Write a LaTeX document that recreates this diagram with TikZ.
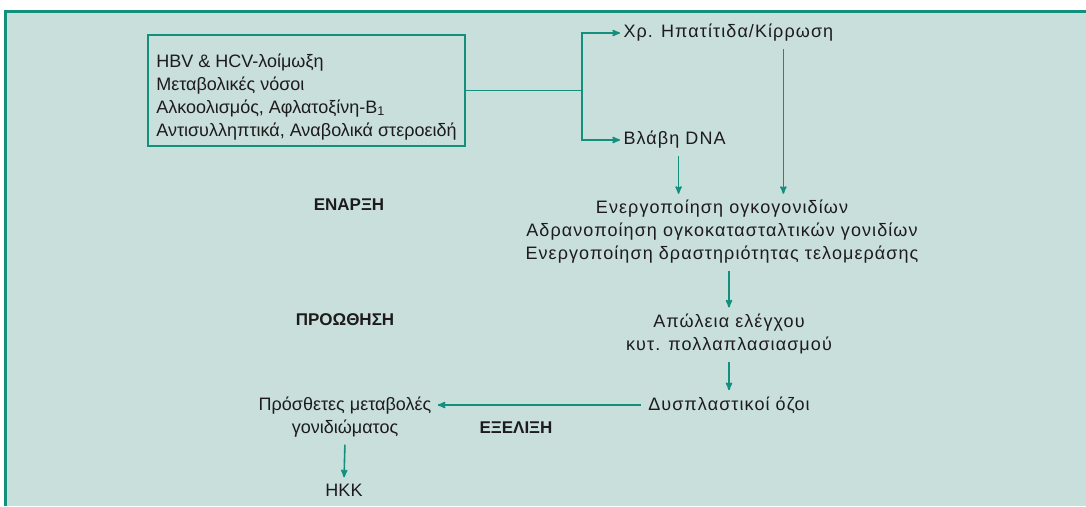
\documentclass[tikz,border=0pt]{standalone}
\usepackage{fontspec}
\setmainfont{Liberation Sans}
\newfontfamily\widefont[LetterSpace=6]{Liberation Sans}
\usetikzlibrary{arrows,positioning}
\definecolor{petrol}{HTML}{12907D}
\definecolor{panel}{HTML}{C8DFDC}
\definecolor{ink}{HTML}{1E1B1C}
\tikzset{
    %Define standard arrow tip
    >=stealth',
    %Define style for plain text
    plain/.style={
           align=center,
           text=ink,
           font=\fontsize{18}{23}\selectfont},
    %Define style for the spaced text on the right
    wide/.style={
           align=center,
           text=ink,
           font=\fontsize{18}{23}\selectfont\widefont},
    %Define style for the stage labels
    stage/.style={
           text=ink,
           font=\fontsize{17}{23}\selectfont\bfseries},
    %Define style for the box
    factorbox/.style={
           rectangle,
           draw=petrol, line width=1.8pt,
           minimum width=317pt,
           inner ysep=6pt,
           align=left,
           text=ink,
           font=\fontsize{18}{23}\selectfont},
    % Define line and arrow style
    wire/.style={
           petrol,
           line width=1.6pt},
    pil/.style={
           ->,
           petrol,
           line width=1.6pt,
           shorten <=4pt,
           shorten >=3pt,}
}
\begin{document}
\begin{tikzpicture}[x=1pt,y=-1pt]
\useasboundingbox (0,0) rectangle (1086,506);
 %frame
\fill[panel] (5,11) rectangle (1086,506);
\draw[petrol, line width=3pt] (5,506) -- (5,11) -- (1086,11);

 %nodes
\node[factorbox](risk) at (306.5,90.5){\rule{0pt}{26pt}HBV \& HCV-λοίμωξη\\Μεταβολικές νόσοι\\Αλκοολισμός, Αφλατοξίνη-B\textsubscript{1}\\Αντισυλληπτικά, Αναβολικά στεροειδή};
\node[wide, anchor=west](chr) at (620,33){Χρ. Ηπατίτιδα/Κίρρωση};
\node[wide, anchor=west](dna) at (620,140){Βλάβη DNA};
\node[stage](start) at (349,205){ΕΝΑΡΞΗ};
\node[wide](act) at (722,232){Ενεργοποίηση ογκογονιδίων\\Αδρανοποίηση ογκοκατασταλτικών γονιδίων\\Ενεργοποίηση δραστηριότητας τελομεράσης};
\node[stage](promo) at (345,320){ΠΡΟΩΘΗΣΗ};
\node[wide](loss) at (729,334){Απώλεια ελέγχου\\κυτ. πολλαπλασιασμού};
\node[wide](dysp) at (729,405){Δυσπλαστικοί όζοι};
\node[plain](extra) at (345,417){Πρόσθετες μεταβολές\\γονιδιώματος};
\node[stage](prog) at (516,428){ΕΞΕΛΙΞΗ};
\node[plain](hcc) at (344,490){ΗΚΚ};

 %connectors
\draw[wire] (risk.east) -- ++(116,0) coordinate (split);
\draw[wire, ->] (split) |- (chr.west);
\draw[wire, ->] (split) |- (dna.west);
\draw[pil] ([xshift=4pt]dna.south) -- ([xshift=4pt]dna.south |- act.north);
\draw[pil] ([xshift=55pt]chr.south) -- ([xshift=55pt]chr.south |- act.north);
\draw[pil] (act.south -| loss.north) -- (loss.north);
\draw[pil] (loss.south) -- (dysp.north);
\draw[pil] (dysp.west) -- (dysp.west -| extra.east);
\draw[pil] (extra.south) -- (hcc.north);

\end{tikzpicture}
\end{document}
